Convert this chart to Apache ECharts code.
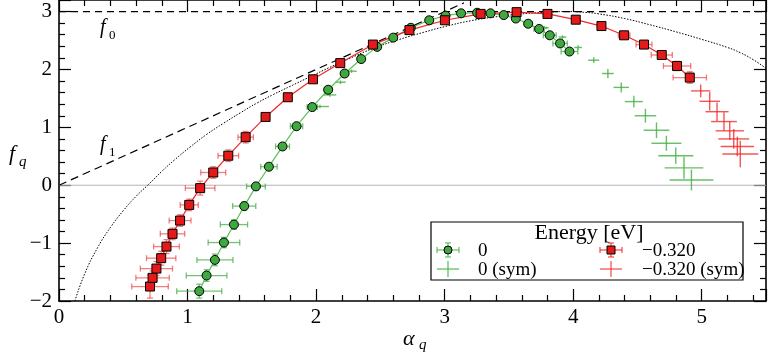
<!DOCTYPE html>
<html><head><meta charset="utf-8">
<script src="https://cdn.jsdelivr.net/npm/echarts@6/dist/echarts.min.js"></script>
<style>html,body{margin:0;padding:0;background:#fff}#c{width:769px;height:355px}</style>
</head><body><div id="c"></div>
<script>
// ---- tick labels ----
const xTicks = [0, 1, 2, 3, 4, 5];
const yTicks = [-2, -1, 0, 1, 2, 3];

// ---- series "0" (green circles) ----
const g0Alpha = [1.091,1.148,1.213,1.283,1.361,1.441,1.532,1.633,1.739,1.848,1.97,2.094,2.222,2.351,2.475,2.60,2.737,2.88,3.007,3.128,3.253,3.357,3.46,3.554,3.65,3.735,3.818,3.898,3.971];
const g0F     = [-1.83,-1.56,-1.29,-0.99,-0.68,-0.36,-0.02,0.32,0.67,1.02,1.35,1.65,1.93,2.18,2.39,2.55,2.72,2.85,2.93,2.97,2.98,2.97,2.94,2.88,2.79,2.70,2.59,2.45,2.31];
const g0XErr  = [0.175,0.158,0.14,0.123,0.106,0.09,0.073,0.064,0.054,0.048,0.04,0.03,0.025,0.02,0.02,0.02,0.02,0.02,0.02,0.02,0.02,0.02,0.02,0.02,0.03,0.04,0.05,0.056,0.065];
const g0YErr  = [0.12,0.1,0.1,0.09,0.08,0.07,0.06,0.05,0.04,0.04,0.03,0.03,0.02,0.02,0.02,0.02,0.02,0.02,0.02,0.02,0.02,0.02,0.02,0.02,0.02,0.03,0.03,0.04,0.04];

// ---- series "0 (sym)" (green crosses) ----
const g0sAlpha = [2.03,2.107,2.19,2.276,3.79,3.917,4.038,4.16,4.27,4.374,4.472,4.562,4.648,4.725,4.798,4.862,4.92];
const g0sF     = [1.36,1.56,1.78,1.97,2.72,2.56,2.38,2.16,1.93,1.69,1.445,1.20,0.95,0.725,0.51,0.30,0.09];
const g0sXErr  = [0.07,0.05,0.04,0.04,0.02,0.03,0.03,0.043,0.045,0.06,0.07,0.084,0.10,0.117,0.136,0.15,0.17];
const g0sYErr  = [0.03,0.03,0.03,0.03,0.02,0.03,0.04,0.05,0.08,0.086,0.1,0.12,0.135,0.13,0.14,0.19,0.18];

// ---- series "-0.320" (red squares) ----
const r3Alpha = [0.708,0.728,0.758,0.795,0.836,0.883,0.942,1.013,1.098,1.20,1.317,1.452,1.607,1.78,1.976,2.188,2.442,2.726,3.002,3.28,3.56,3.80,4.02,4.22,4.396,4.551,4.689,4.808,4.907];
const r3F     = [-1.75,-1.60,-1.44,-1.26,-1.06,-0.84,-0.61,-0.34,-0.05,0.22,0.51,0.83,1.18,1.52,1.83,2.11,2.43,2.68,2.85,2.96,2.99,2.96,2.86,2.75,2.59,2.43,2.25,2.06,1.86];
const r3XErr  = [0.142,0.13,0.125,0.114,0.10,0.095,0.085,0.07,0.115,0.097,0.08,0.06,0.03,0.02,0.02,0.02,0.02,0.02,0.02,0.02,0.02,0.02,0.02,0.03,0.045,0.062,0.082,0.106,0.13];
const r3YErr  = [0.2,0.12,0.12,0.12,0.12,0.1,0.1,0.1,0.12,0.1,0.1,0.1,0.06,0.04,0.03,0.03,0.02,0.02,0.02,0.02,0.02,0.02,0.03,0.03,0.04,0.05,0.06,0.08,0.1];

// ---- series "-0.320 (sym)" (red crosses) ----
const r3sAlpha = [4.992,5.062,5.119,5.173,5.218,5.249,5.277,5.30];
const r3sF     = [1.63,1.45,1.27,1.10,0.94,0.80,0.67,0.54];
const r3sXErr  = [0.075,0.08,0.09,0.10,0.11,0.12,0.13,0.14];
const r3sYErr  = [0.11,0.16,0.16,0.16,0.16,0.17,0.17,0.23];

// ---- reference curves ----
const dotAlpha = [0.124,0.2,0.3,0.4,0.5,0.6,0.69,0.8,0.9,1.02,1.15,1.28,1.41,1.54,1.67,1.8,1.95,2.1,2.27,2.44,2.65,2.85,3.0,3.2,3.4,3.6,3.8,3.95,4.1,4.2,4.4,4.6,4.8,5.0,5.2,5.3,5.4,5.5];
const dotF     = [-2.0,-1.53,-1.08,-0.73,-0.44,-0.19,0.0,0.24,0.44,0.66,0.88,1.07,1.25,1.42,1.57,1.71,1.87,2.03,2.2,2.36,2.52,2.65,2.74,2.84,2.91,2.96,2.99,3.0,2.985,2.96,2.88,2.77,2.65,2.52,2.38,2.29,2.17,2.02];
const f1Alpha = [0, 3.15];
const f1F     = [0, 3.15];
const f0Alpha = [0, 5.5];
const f0F     = [3, 3];
const zeroAlpha = [0, 5.5];
const zeroF     = [0, 0];

const zip2 = (a, b) => a.map((v, i) => [v, b[i]]);
const zip4 = (a, b, c, d) => a.map((v, i) => [v, b[i], c[i], d[i]]);

const SERIF = 'Liberation Serif';

function errRender(color, caps, lw) {
  return function (params, api) {
    const x = api.value(0), y = api.value(1), ex = api.value(2), ey = api.value(3);
    const c = api.coord([x, y]);
    const l = api.coord([x - ex, y]), r = api.coord([x + ex, y]);
    const t = api.coord([x, y + ey]), b = api.coord([x, y - ey]);
    const style = { stroke: color, lineWidth: lw, fill: null };
    const ch = [
      { type: 'line', shape: { x1: l[0], y1: c[1], x2: r[0], y2: c[1] }, style },
      { type: 'line', shape: { x1: c[0], y1: t[1], x2: c[0], y2: b[1] }, style }
    ];
    if (caps) {
      const h = 3;
      ch.push({ type: 'line', shape: { x1: l[0], y1: c[1] - h, x2: l[0], y2: c[1] + h }, style });
      ch.push({ type: 'line', shape: { x1: r[0], y1: c[1] - h, x2: r[0], y2: c[1] + h }, style });
      ch.push({ type: 'line', shape: { x1: c[0] - h, y1: t[1], x2: c[0] + h, y2: t[1] }, style });
      ch.push({ type: 'line', shape: { x1: c[0] - h, y1: b[1], x2: c[0] + h, y2: b[1] }, style });
    }
    return { type: 'group', children: ch };
  };
}

const GREEN_FILL = '#3fa83f', GREEN_LINE = '#5cc05c';
const GREEN_ERR = 'rgba(70,175,70,0.75)', GREEN_SYM = 'rgba(70,180,70,0.85)';
const RED_FILL = '#e41a1a', RED_LINE = '#f02828';
const RED_ERR = 'rgba(235,40,40,0.6)', RED_SYM = 'rgba(240,30,30,0.75)';

function axisCommon() {
  return {
    axisLine: { show: true, onZero: false, lineStyle: { color: '#000', width: 1.6 } },
    axisTick: { show: true, inside: true, length: 12, lineStyle: { color: '#000', width: 1.2 } },
    minorTick: { show: true, splitNumber: 5, length: 6, lineStyle: { color: '#000', width: 1.2 } },
    splitLine: { show: false },
    minorSplitLine: { show: false }
  };
}

const txt = (x, y, text, size, italic, extra) => Object.assign({
  type: 'text', x: x, y: y, z: 101,
  style: Object.assign({ text: text, fontFamily: SERIF, fontSize: size, fontStyle: italic ? 'italic' : 'normal', fill: '#000' }, extra || {})
});
const seg = (x1, y1, x2, y2, color) => ({ type: 'line', z: 102, shape: { x1, y1, x2, y2 }, style: { stroke: color, lineWidth: 1.3 } });

const chart = echarts.init(document.getElementById('c'));
chart.setOption({
  animation: false,
  backgroundColor: '#fff',
  grid: { left: 59, right: 3, top: 0, bottom: 54, containLabel: false },
  xAxis: [
    Object.assign({ type: 'value', min: 0, max: 5.5, interval: 1, position: 'bottom',
      axisLabel: { show: true, color: '#000', fontFamily: SERIF, fontSize: 21, margin: 6, showMaxLabel: false,
        formatter: v => xTicks.includes(v) ? String(v) : '' } }, axisCommon()),
    Object.assign({ type: 'value', min: 0, max: 5.5, interval: 1, position: 'top',
      axisLabel: { show: false } }, axisCommon())
  ],
  yAxis: [
    Object.assign({ type: 'value', min: -2, max: 3.2, interval: 1, position: 'left',
      axisLabel: { show: true, color: '#000', fontFamily: SERIF, fontSize: 21, margin: 7, showMaxLabel: false,
        formatter: v => yTicks.includes(v) ? (v < 0 ? '\u2212' + Math.abs(v) : String(v)) : '' } }, axisCommon()),
    Object.assign({ type: 'value', min: -2, max: 3.2, interval: 1, position: 'right',
      axisLabel: { show: false } }, axisCommon())
  ],
  series: [
    { type: 'line', data: zip2(zeroAlpha, zeroF), symbol: 'none', silent: true, z: 1,
      lineStyle: { color: '#b4b4b4', width: 1 } },
    { type: 'line', data: zip2(f0Alpha, f0F), symbol: 'none', silent: true, z: 2,
      lineStyle: { color: '#000', width: 1.2, type: [7, 5] } },
    { type: 'line', data: zip2(f1Alpha, f1F), symbol: 'none', silent: true, z: 2,
      lineStyle: { color: '#000', width: 1.2, type: [8, 5] } },
    { type: 'line', data: zip2(dotAlpha, dotF), symbol: 'none', smooth: true, silent: true, z: 2,
      lineStyle: { color: '#000', width: 1, type: [1.5, 1.5] } },
    { type: 'custom', name: '0 (sym)', data: zip4(g0sAlpha, g0sF, g0sXErr, g0sYErr), z: 3,
      renderItem: errRender(GREEN_SYM, false, 1.4), encode: { x: 0, y: 1 } },
    { type: 'custom', name: '-0.320 (sym)', data: zip4(r3sAlpha, r3sF, r3sXErr, r3sYErr), z: 3,
      renderItem: errRender(RED_SYM, false, 1.4), encode: { x: 0, y: 1 } },
    { type: 'custom', name: '0 err', data: zip4(g0Alpha, g0F, g0XErr, g0YErr), z: 4,
      renderItem: errRender(GREEN_ERR, true, 1.3), encode: { x: 0, y: 1 } },
    { type: 'custom', name: '-0.320 err', data: zip4(r3Alpha, r3F, r3XErr, r3YErr), z: 4,
      renderItem: errRender(RED_ERR, true, 1.3), encode: { x: 0, y: 1 } },
    { type: 'line', name: '0', data: zip2(g0Alpha, g0F), z: 5,
      symbol: 'circle', symbolSize: 9,
      itemStyle: { color: GREEN_FILL, borderColor: '#000', borderWidth: 1 },
      lineStyle: { color: GREEN_LINE, width: 1.2 } },
    { type: 'line', name: '-0.320', data: zip2(r3Alpha, r3F), z: 5,
      symbol: 'rect', symbolSize: 9,
      itemStyle: { color: RED_FILL, borderColor: '#000', borderWidth: 1 },
      lineStyle: { color: RED_LINE, width: 1.2 } }
  ],
  graphic: [
    // axis names
    txt(403, 328, 'α', 22, true),
    txt(419, 338, 'q', 15, true),
    txt(9, 143, 'f', 22, true),
    txt(19, 155, 'q', 15, true),
    // curve labels
    txt(100, 18, 'f', 20, true),
    txt(109, 29, '0', 13, false),
    txt(100, 135, 'f', 20, true),
    txt(109, 146, '1', 13, false),
    // legend box
    { type: 'rect', z: 100, shape: { x: 431, y: 222, width: 312, height: 58 }, style: { fill: '#fff', stroke: '#000', lineWidth: 1.2 } },
    txt(589, 233, 'Energy [eV]', 22, false, { align: 'center', verticalAlign: 'middle' }),
    txt(478, 251, '0', 19, false, { verticalAlign: 'middle' }),
    txt(478, 270, '0 (sym)', 19, false, { verticalAlign: 'middle' }),
    txt(642, 251, '\u22120.320', 19, false, { verticalAlign: 'middle' }),
    txt(642, 270, '\u22120.320 (sym)', 19, false, { verticalAlign: 'middle' }),
    // legend symbols: green
    seg(437, 250, 459, 250, GREEN_ERR), seg(448, 243, 448, 257, GREEN_ERR),
    seg(437, 247, 437, 253, GREEN_ERR), seg(459, 247, 459, 253, GREEN_ERR),
    seg(445, 243, 451, 243, GREEN_ERR), seg(445, 257, 451, 257, GREEN_ERR),
    { type: 'circle', z: 103, shape: { cx: 448, cy: 250, r: 4 }, style: { fill: GREEN_FILL, stroke: '#000', lineWidth: 1 } },
    seg(437, 269, 459, 269, GREEN_SYM), seg(448, 261, 448, 277, GREEN_SYM),
    // legend symbols: red
    seg(600, 250, 622, 250, RED_SYM), seg(611, 243, 611, 257, RED_SYM),
    seg(600, 247, 600, 253, RED_SYM), seg(622, 247, 622, 253, RED_SYM),
    seg(608, 243, 614, 243, RED_SYM), seg(608, 257, 614, 257, RED_SYM),
    { type: 'rect', z: 103, shape: { x: 607, y: 246, width: 8, height: 8 }, style: { fill: RED_FILL, stroke: '#000', lineWidth: 1 } },
    seg(600, 269, 622, 269, RED_SYM), seg(611, 261, 611, 277, RED_SYM)
  ]
});
</script>
</body></html>
